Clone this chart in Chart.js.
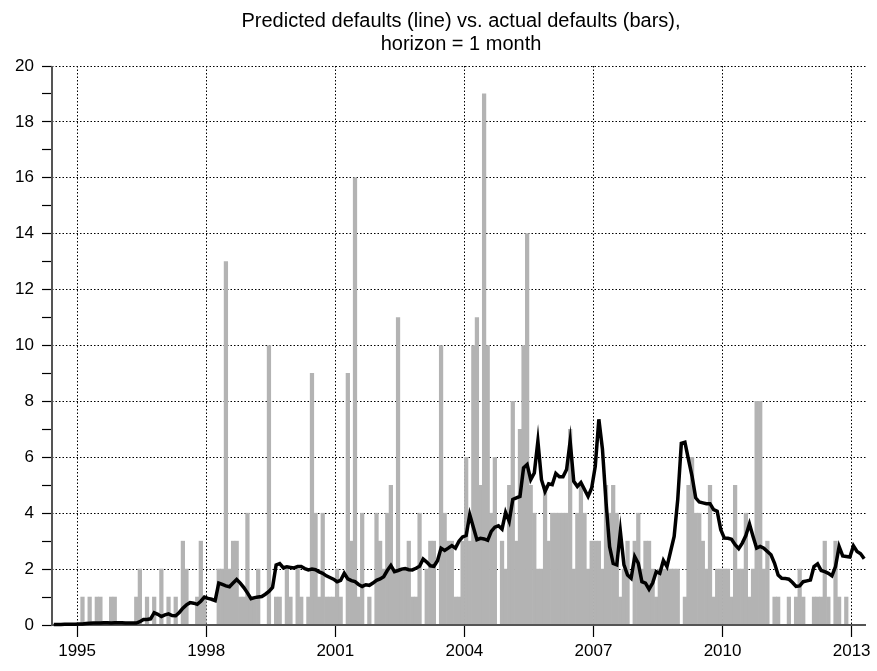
<!DOCTYPE html>
<html>
<head>
<meta charset="utf-8">
<script src="https://cdn.jsdelivr.net/npm/chart.js"></script>
<style>
  body { margin: 0; background: #fff; }
  canvas { display: block; }
</style>
</head>
<body>
<canvas id="chart" width="877" height="671"></canvas>
<script>
// DATA (monthly, first month = June 1994)
const startYear = 1994;
const startMonth = 6;
const yearTicks = [1995, 1998, 2001, 2004, 2007, 2010, 2013];
const titleLines = ["Predicted defaults (line) vs. actual defaults (bars),", "horizon = 1 month"];

// actual defaults (bars)
const actual = [
  0,0,0,0,0,0,0,0,  1,0,1,0,1,1,0,0,  1,1,0,0,0,0,0,1,  2,0,1,0,1,0,2,0,
  1,0,1,0,3,2,0,0,  1,3,1,0,0,0,2,2,  13,2,3,3,1,1,4,1, 1,2,0,0,10,0,1,1,
  0,2,1,0,2,1,0,1,  9,4,1,4,1,1,1,2,  1,0,9,3,16,1,4,0, 1,0,4,3,2,4,5,2,
  11,2,2,3,1,1,4,0, 2,3,3,0,10,4,3,3, 1,1,3,6,3,10,11,5, 19,10,4,6,0,3,2,5,
  8,3,7,10,14,5,4,2, 2,5,3,4,4,4,4,4, 7,2,4,5,4,2,3,3, 3,2,5,4,5,4,1,2,
  3,0,3,4,2,3,3,2,  1,2,2,2,2,2,2,0,  1,5,6,4,4,3,2,5,  1,2,2,2,2,1,5,2,
  2,4,1,2,8,8,2,3,  0,1,1,0,0,1,0,1,  2,1,0,0,1,1,1,3,  1,0,3,1,0,1,0,0,
  0,0,0
];

// predicted defaults (line)
const predicted = [
  0.02,0.02,0.02,0.03,0.03,0.03,0.03,0.04, 0.04,0.05,0.06,0.07,0.07,0.07,0.08,0.08,
  0.07,0.08,0.08,0.08,0.07,0.07,0.07,0.07, 0.12,0.2,0.2,0.22,0.44,0.38,0.3,0.36,
  0.4,0.34,0.33,0.45,0.6,0.72,0.8,0.78,    0.74,0.85,1.0,0.95,0.92,0.87,1.5,1.45,
  1.4,1.37,1.5,1.63,1.5,1.34,1.15,0.94,    0.98,1.0,1.02,1.1,1.2,1.34,2.15,2.2,
  2.05,2.08,2.06,2.04,2.09,2.09,2.02,1.97, 2.0,1.98,1.9,1.85,1.76,1.7,1.64,1.55,
  1.6,1.85,1.65,1.59,1.55,1.45,1.38,1.44,  1.42,1.5,1.6,1.65,1.73,1.95,2.13,1.91,
  1.95,2.0,2.02,1.98,1.97,2.03,2.1,2.36,   2.25,2.12,2.1,2.3,2.75,2.67,2.75,2.84,
  2.75,3.0,3.15,3.2,3.95,3.5,3.05,3.1,     3.08,3.03,3.35,3.5,3.55,3.43,4.03,3.71,
  4.49,4.55,4.6,5.62,5.74,5.2,5.44,6.58,   5.2,4.78,5.05,5.02,5.42,5.3,5.3,5.56,
  6.58,5.14,4.96,5.1,4.85,4.6,4.9,5.68,    7.36,6.3,4.4,2.8,2.2,2.15,3.35,2.15,
  1.79,1.67,2.45,2.21,1.55,1.5,1.28,1.5,   1.91,1.85,2.31,2.09,2.63,3.17,4.49,6.5,
  6.54,5.92,5.32,4.55,4.4,4.37,4.34,4.34,  4.13,4.07,3.41,3.11,3.1,3.07,2.87,2.73,
  2.93,3.2,3.62,3.17,2.75,2.81,2.75,2.63,  2.51,2.21,1.79,1.67,1.66,1.64,1.52,1.38,
  1.4,1.55,1.58,1.61,2.09,2.19,1.95,1.91,  1.85,1.76,2.09,2.81,2.47,2.45,2.43,2.83,
  2.63,2.55,2.37
];

// month -> decimal year (centre of the month)
const t0 = startYear + (startMonth - 1) / 12;
const monthX = actual.map((_, i) => t0 + (i + 0.5) / 12);
const tEnd = t0 + actual.length / 12;

const FONT = "'Liberation Sans', Arial, Helvetica, sans-serif";

// axis lines (drawn over the bars, under the line) + title
const frame = {
    id: "frame",
    afterDatasetDraw(chart, args) {
        if (args.meta.type !== "bar") return;
        const { ctx, chartArea: a } = chart;
        ctx.save();
        ctx.strokeStyle = "#555";
        ctx.lineWidth = 2;
        ctx.beginPath();
        ctx.moveTo(a.left, a.top);
        ctx.lineTo(a.left, a.bottom);
        ctx.lineTo(a.right, a.bottom);
        ctx.stroke();
        ctx.restore();
    },
    afterDraw(chart) {
        const { ctx, chartArea: a } = chart;
        const cx = (a.left + a.right) / 2 + 2;
        ctx.save();
        ctx.fillStyle = "#000";
        ctx.font = "20px " + FONT;
        ctx.textAlign = "center";
        ctx.textBaseline = "middle";
        ctx.fillText(titleLines[0], cx, 21);
        ctx.fillText(titleLines[1], cx, 44);
        ctx.restore();
    }
};

new Chart(document.getElementById("chart"), {
    type: "bar",
    data: {
        datasets: [
            {
                type: "line",
                label: "Predicted",
                data: predicted.map((v, i) => ({ x: monthX[i], y: v })),
                borderColor: "#000",
                borderWidth: 3.5,
                pointRadius: 0,
                tension: 0,
                clip: 6,
                order: 0
            },
            {
                label: "Actual",
                data: actual.map((v, i) => ({ x: monthX[i], y: v })),
                backgroundColor: "#b3b3b3",
                borderWidth: 0,
                barPercentage: 1,
                categoryPercentage: 1,
                order: 1
            }
        ]
    },
    options: {
        responsive: false,
        devicePixelRatio: 1,
        animation: false,
        layout: { padding: { top: 66, right: 11, left: 0, bottom: 0 } },
        plugins: {
            legend: { display: false },
            tooltip: { enabled: false },
            title: { display: false }
        },
        scales: {
            x: {
                type: "linear",
                min: t0,
                max: tEnd,
                offset: false,
                afterBuildTicks: s => { s.ticks = yearTicks.map(v => ({ value: v })); },
                ticks: {
                    autoSkip: false,
                    maxRotation: 0,
                    color: "#000",
                    padding: 4,
                    font: { size: 17, family: FONT },
                    callback: v => String(v)
                },
                grid: {
                    offset: false,
                    color: "#000",
                    lineWidth: 1,
                    tickColor: "#000",
                    tickLength: 12,
                    tickWidth: 1.2,
                    tickBorderDash: []
                },
                border: { display: false, dash: [1.5, 2] },
                afterFit: s => { s.height = 46; s.paddingLeft = 0; s.paddingRight = 0; }
            },
            y: {
                min: 0,
                max: 20,
                ticks: {
                    stepSize: 1,
                    autoSkip: false,
                    color: "#000",
                    padding: 8,
                    font: { size: 17, family: FONT },
                    callback: v => (v % 2 === 0 ? String(v) : "")
                },
                grid: {
                    color: c => (c.tick && c.tick.value > 0 && c.tick.value % 2 === 0) ? "#000" : "rgba(0,0,0,0)",
                    lineWidth: 1,
                    tickColor: "#000",
                    tickLength: 10,
                    tickWidth: 1.2,
                    tickBorderDash: []
                },
                border: { display: false, dash: [1.5, 2] },
                afterFit: s => { s.width = 52; }
            }
        }
    },
    plugins: [frame]
});
</script>
</body>
</html>
